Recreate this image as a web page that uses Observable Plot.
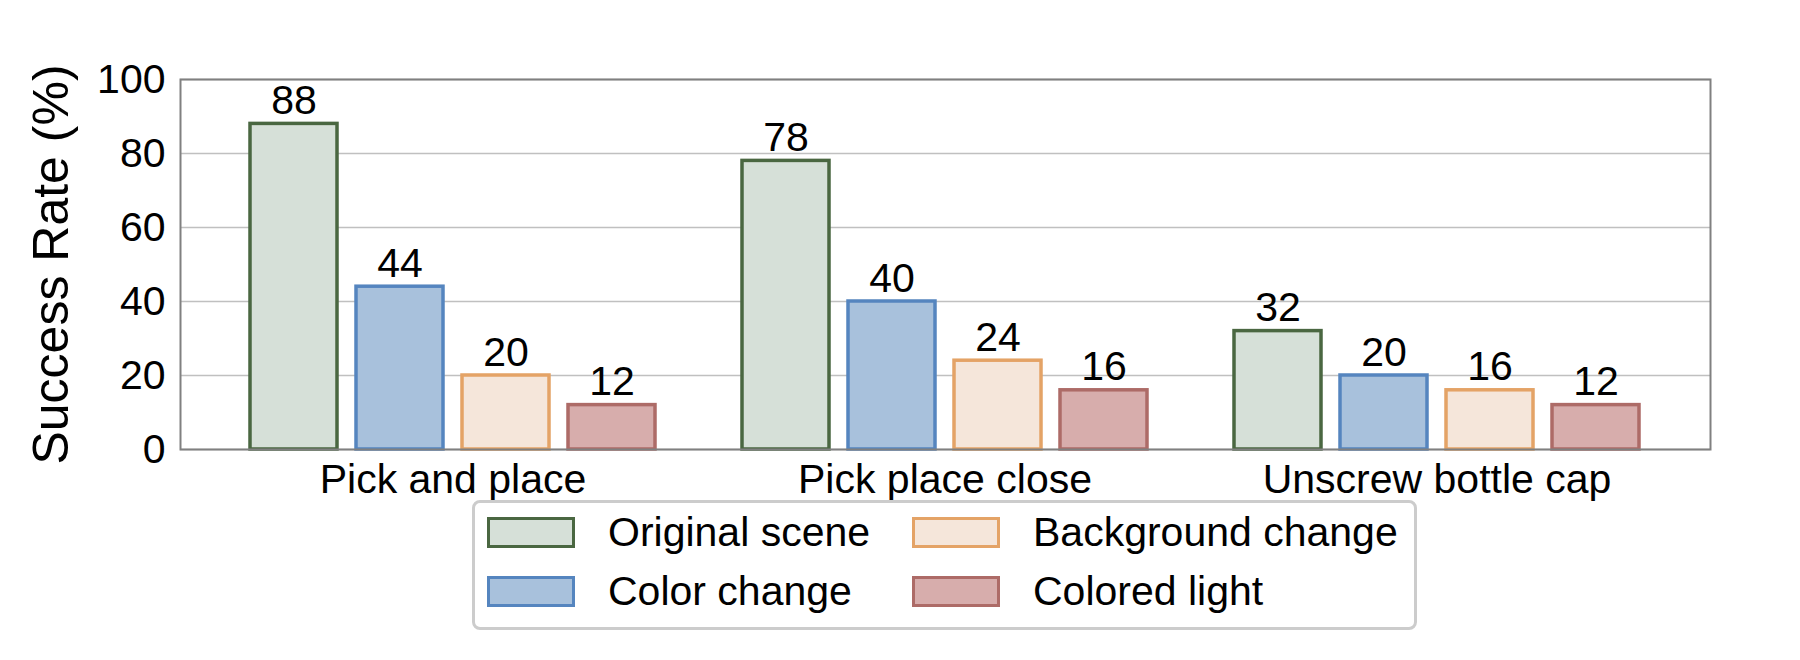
<!DOCTYPE html>
<html><head><meta charset="utf-8">
<script src="https://cdn.jsdelivr.net/npm/d3@7"></script>
<script src="https://cdn.jsdelivr.net/npm/@observablehq/plot@0.6"></script>
<style>
body{margin:0;background:#fff;font-family:"Liberation Sans",Arial,sans-serif;}
#wrap{position:relative;width:1800px;height:660px;}
#legend{position:absolute;left:472px;top:500px;width:945px;height:130px;box-sizing:border-box;border:3px solid #cccccc;border-radius:8px;background:#fff;}
.item{position:absolute;display:flex;align-items:center;height:31px;font-size:41px;color:#000;white-space:nowrap;}
.sw{box-sizing:border-box;width:88px;height:31px;border:3.5px solid;margin-right:33px;flex:none;}
</style></head><body><div id="wrap"><div id="chart"></div><div id="legend"></div></div>
<script>
const tasks = ["Pick and place", "Pick place close", "Unscrew bottle cap"];
const conditions = ["Original scene", "Color change", "Background change", "Colored light"];
const originalScene = [88, 78, 32];
const colorChange = [44, 40, 20];
const backgroundChange = [20, 24, 16];
const coloredLight = [12, 16, 12];
const fills = ["#d6e0d8", "#a8c1dc", "#f5e6da", "#d7adac"];
const strokes = ["#4a6741", "#5585bf", "#e4a366", "#ad6b67"];
const yTicks = [0, 20, 40, 60, 80, 100];
const yLabel = "Success Rate (%)";

const series = [originalScene, colorChange, backgroundChange, coloredLight];
const pitch = 106; // slot pitch inside a task band (px)

const barMarks = [];
const labelMarks = [];
series.forEach((vals, j) => {
  const rows = tasks.map((t, i) => ({task: t, cond: conditions[j], value: vals[i]}));
  barMarks.push(Plot.barY(rows, {
    x: "task", y: "value",
    insetLeft: j * pitch, insetRight: (3 - j) * pitch,
    fill: fills[j], stroke: strokes[j], strokeWidth: 3.5
  }));
  labelMarks.push(Plot.text(rows, {
    x: "task", y: "value", text: d => String(d.value),
    dx: (j - 1.5) * pitch, dy: -10, lineAnchor: "bottom", fontSize: 41, fill: "#000"
  }));
});

const chart = Plot.plot({
  width: 1800,
  height: 500,
  marginLeft: 180,
  marginRight: 90,
  marginTop: 79,
  marginBottom: 51,
  style: {fontFamily: "'Liberation Sans', Arial, sans-serif", fontSize: "41px", color: "#000", background: "transparent", overflow: "visible"},
  x: {domain: tasks, paddingInner: 0.1766, paddingOuter: 0.1416, tickSize: 0, tickPadding: 14, label: null},
  y: {domain: [0, 100], ticks: yTicks, tickSize: 0, tickPadding: 15, label: null},
  marks: [
    Plot.ruleY(yTicks, {stroke: "#c0c0c0", strokeWidth: 1.5}),
    ...barMarks,
    ...labelMarks,
    Plot.frame({stroke: "#808080", strokeWidth: 2}),
    Plot.text([yLabel], {frameAnchor: "left", rotate: -90, dx: -113, fontSize: 50, textAnchor: "middle", lineAnchor: "bottom", fill: "#000"})
  ]
});
document.getElementById("chart").appendChild(chart);

const legend = document.getElementById("legend");
const pos = [[12, 14], [12, 73], [437, 14], [437, 73]];
conditions.forEach((c, j) => {
  const item = document.createElement("div");
  item.className = "item";
  item.style.left = pos[j][0] + "px";
  item.style.top = pos[j][1] + "px";
  const sw = document.createElement("div");
  sw.className = "sw";
  sw.style.background = fills[j];
  sw.style.borderColor = strokes[j];
  item.appendChild(sw);
  const t = document.createElement("span");
  t.textContent = c;
  item.appendChild(t);
  legend.appendChild(item);
});
</script></body></html>
